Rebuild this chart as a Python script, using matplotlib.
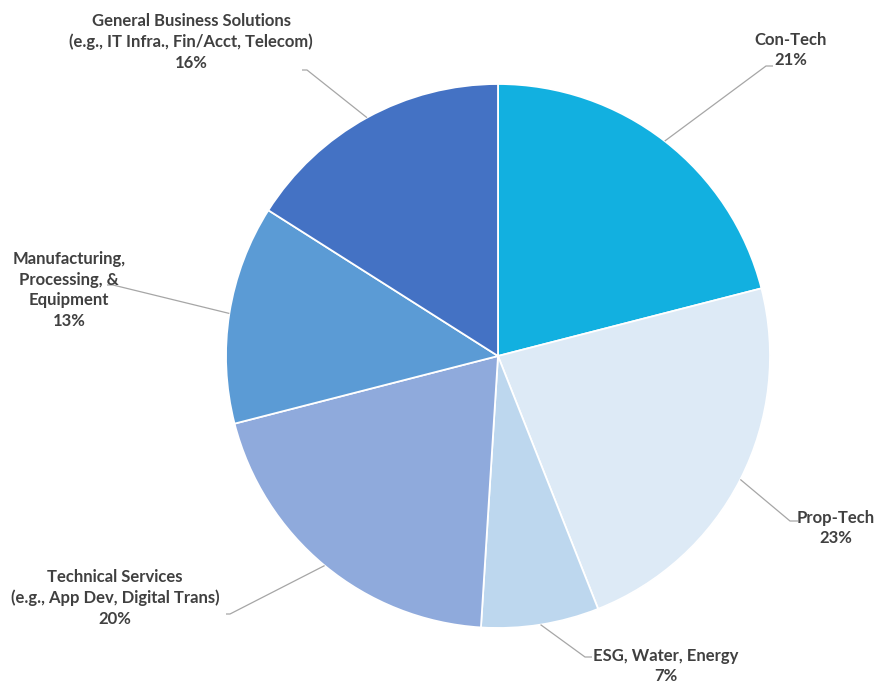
import numpy as np
import matplotlib
matplotlib.use("Agg")
import matplotlib.pyplot as plt

# slice data, clockwise from 12 o'clock
CATEGORIES = ["Con-Tech",
              "Prop-Tech",
              "ESG, Water, Energy",
              "Technical Services\n(e.g., App Dev, Digital Trans)",
              "Manufacturing,\nProcessing, &\nEquipment",
              "General Business Solutions\n(e.g., IT Infra., Fin/Acct, Telecom)"]
SHARES = [21, 23, 7, 20, 13, 16]
COLORS = ["#12B0E0", "#DDEAF6", "#BDD7EE", "#8FAADC", "#5B9BD5", "#4472C4"]

W, H = 876, 685
CENTER = (498, H - 356)
RADIUS = 272

# label centre, elbow point, end of short horizontal stub (pixel coords, y from top)
LABEL_POS = [(791, 50), (836, 528), (666, 666), (115, 598), (69, 290), (191, 42)]
ELBOWS = [(766, 66), (790, 521), (585, 657), (230, 614), (113, 285), (307, 70)]
STUBS = [(773, 66), (798, 521), (592, 657), (226, 614), (107, 285), (302, 70)]

TEXT_COLOR = "#404040"
LINE_COLOR = "#A6A6A6"

plt.rcParams["font.family"] = ["Lato", "DejaVu Sans"]

fig = plt.figure(figsize=(W / 100, H / 100), dpi=100)
ax = fig.add_axes([0, 0, 1, 1])

wedges, _ = ax.pie(SHARES, colors=COLORS, startangle=90, counterclock=False,
                   center=CENTER, radius=RADIUS,
                   wedgeprops=dict(edgecolor="white", linewidth=1.3))

for w, label, share, pos, elb, stub in zip(wedges, CATEGORIES, SHARES,
                                           LABEL_POS, ELBOWS, STUBS):
    mid = np.deg2rad((w.theta1 + w.theta2) / 2)
    ex = CENTER[0] + RADIUS * np.cos(mid)
    ey = CENTER[1] + RADIUS * np.sin(mid)
    ax.plot([ex, elb[0], stub[0]], [ey, H - elb[1], H - stub[1]],
            color=LINE_COLOR, linewidth=0.9, solid_capstyle="butt", zorder=1)
    ax.text(pos[0], H - pos[1], f"{label}\n{share}%", ha="center", va="center",
            fontsize=12, fontweight="bold", color=TEXT_COLOR, linespacing=1.36)

ax.set_xlim(0, W)
ax.set_ylim(0, H)
ax.set_aspect("equal")
ax.axis("off")

fig.savefig("out.png", dpi=100, facecolor="white")
